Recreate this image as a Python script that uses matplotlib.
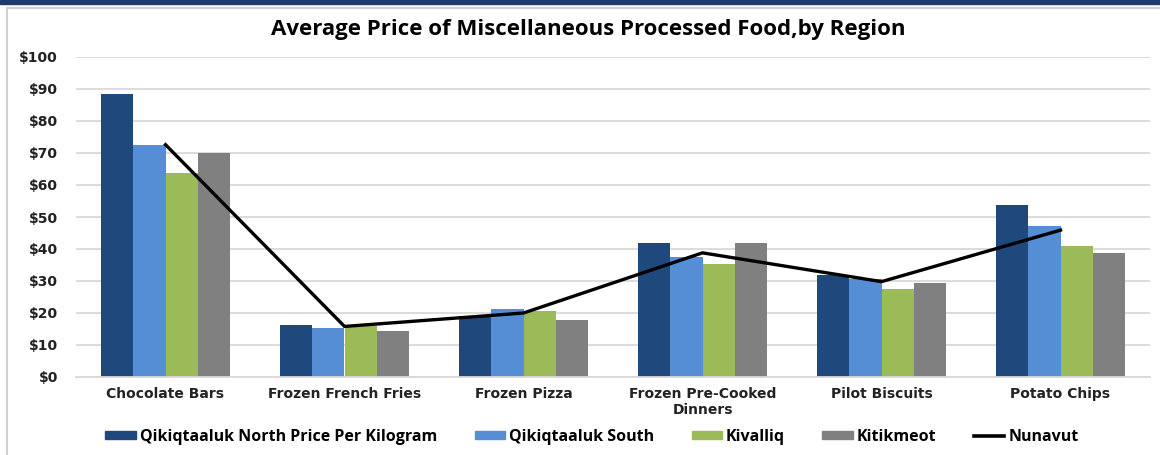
import matplotlib.pyplot as plt
import numpy as np
from matplotlib.patches import Rectangle
from matplotlib.lines import Line2D
from matplotlib.ticker import FuncFormatter

categories = ['Chocolate Bars', 'Frozen French Fries', 'Frozen Pizza',
              'Frozen Pre-Cooked\nDinners', 'Pilot Biscuits', 'Potato Chips']
north = [88.3, 16.3, 19.0, 41.8, 31.9, 53.7]
south = [72.5, 15.4, 21.2, 37.6, 30.5, 47.1]
kivalliq = [63.8, 16.0, 20.6, 35.3, 27.4, 40.9]
kitikmeot = [70.1, 14.3, 17.8, 41.8, 29.3, 38.9]
nunavut = [72.6, 15.8, 20.0, 38.8, 29.8, 45.9]

series_names = ['Qikiqtaaluk North Price Per Kilogram', 'Qikiqtaaluk South',
                'Kivalliq', 'Kitikmeot']
colors = ['#1F497D', '#558ED5', '#9BBB59', '#808080']

fig = plt.figure(figsize=(11.6, 4.55), dpi=100)

# navy band + grey frame like the source screenshot
fig.patches.append(Rectangle((0, 1 - 4 / 455), 1, 4 / 455, transform=fig.transFigure,
                             color='#1F3A6E', zorder=0))
fig.patches.append(Rectangle((7 / 1160, -0.05), 1.2, 1 - 8 / 455 + 0.05, transform=fig.transFigure,
                             fill=False, edgecolor='#D0D0D0', linewidth=1.5, zorder=0))

ax = fig.add_axes([76 / 1160, 1 - 377 / 455, (1150 - 76) / 1160, (377 - 57) / 455])

x = np.arange(len(categories))
w = 0.18
for i, (vals, name, c) in enumerate(zip([north, south, kivalliq, kitikmeot], series_names, colors)):
    ax.bar(x + (i - 1.5) * w, vals, width=w, color=c, label=name, zorder=2)

ax.plot(x, nunavut, color='black', linewidth=2.4, label='Nunavut', zorder=3)

ax.set_xlim(-0.5, 5.5)
ax.set_ylim(0, 100)
ax.set_yticks(range(0, 101, 10))
ax.yaxis.set_major_formatter(FuncFormatter(lambda v, p: f'${v:.0f}'))
ax.set_xticks(x)
ax.set_xticklabels(categories)
ax.tick_params(length=0, labelsize=10)
ax.tick_params(axis='x', pad=7)
ax.tick_params(axis='y', pad=13)
for lab in ax.get_xticklabels() + ax.get_yticklabels():
    lab.set_fontweight('bold')
    lab.set_color('#222222')

ax.grid(axis='y', color='#D9D9D9', linewidth=1.3, zorder=0)
for s in ['top', 'right', 'left']:
    ax.spines[s].set_visible(False)
ax.spines['bottom'].set_color('#D9D9D9')
ax.spines['bottom'].set_linewidth(1.3)

fig.text(588 / 1160, 1 - 30 / 455, 'Average Price of Miscellaneous Processed Food,by Region',
         ha='center', va='center', fontsize=16, fontweight='bold', family='Open Sans')

handles = [Rectangle((0, 0), 1, 1, color=c) for c in colors]
handles.append(Line2D([0], [0], color='black', linewidth=2.6))
leg = fig.legend(handles, series_names + ['Nunavut'], loc='center',
                 bbox_to_anchor=(592 / 1160, 1 - 437 / 455), ncol=5, frameon=False,
                 prop={'family': 'Open Sans', 'weight': 'bold', 'size': 11.5},
                 handlelength=1.9, handleheight=0.4, handletextpad=0.25, columnspacing=2.35)

fig.savefig('out.png', dpi=100)
